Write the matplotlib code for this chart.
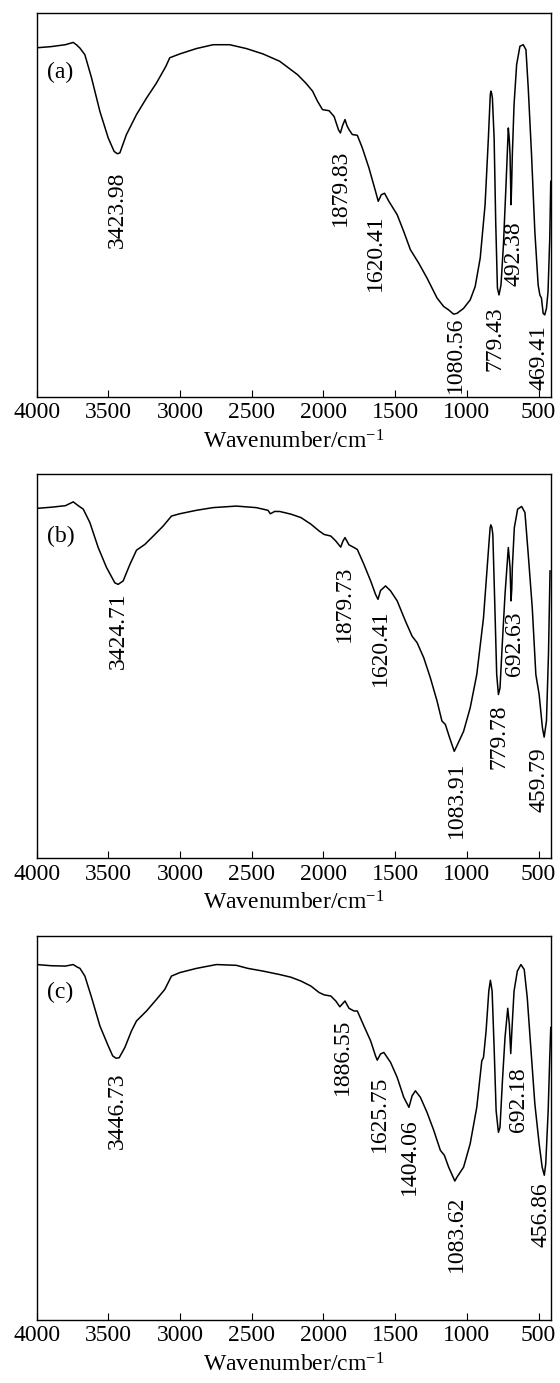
import matplotlib
matplotlib.use("Agg")
import matplotlib.pyplot as plt

plt.rcParams['font.family'] = ['Liberation Serif', 'DejaVu Serif']
plt.rcParams['mathtext.fontset'] = 'custom'
plt.rcParams['mathtext.rm'] = 'Liberation Serif'
plt.rcParams['mathtext.it'] = 'Liberation Serif:italic'

# ---- spectrum (a) ----
wn_a = [4000, 3900, 3800, 3745, 3720, 3698, 3664, 3617, 3559, 3501, 3460, 3438, 3420,
        3374, 3304, 3234, 3165, 3100, 3072, 3002, 2886, 2770, 2654, 2538, 2422, 2306,
        2213, 2181, 2123, 2076, 2042, 2007, 1961, 1926, 1895, 1882, 1868, 1850, 1835,
        1822, 1799, 1764, 1729, 1683, 1637, 1618, 1597, 1574, 1544, 1486, 1440, 1394,
        1336, 1278, 1208, 1162, 1127, 1093, 1069, 1023, 977, 942, 907, 873, 850, 837,
        833, 827, 822, 810, 799, 787, 776, 762, 745, 727, 711, 704, 699, 692, 688, 683,
        671, 653, 630, 607, 588, 572, 549, 526, 503, 491, 480, 468, 457, 445, 434, 422, 415]
t_a = [90.9, 91.2, 91.7, 92.3, 91.6, 90.8, 89.1, 83.0, 74.3, 67.4, 63.9, 63.3, 63.5,
       68.3, 73.5, 77.8, 81.7, 86.0, 88.3, 89.3, 90.7, 91.7, 91.7, 90.7, 89.3, 87.4,
       84.8, 83.9, 81.7, 79.6, 77.0, 74.8, 74.5, 73.0, 69.5, 68.7, 70.5, 72.2, 70.5,
       69.6, 68.3, 68.1, 64.8, 59.6, 53.5, 50.9, 52.6, 53.0, 50.9, 47.4, 43.0, 38.3,
       34.8, 30.9, 25.7, 23.5, 22.6, 21.5, 21.7, 23.0, 25.2, 28.7, 36.1, 50.0, 67.4, 78.5,
       79.6, 79.0, 77.8, 67.4, 45.7, 28.3, 26.5, 29.1, 39.6, 55.2, 70.0, 67.0, 63.0, 50.0, 55.0, 63.0,
       76.1, 86.5, 91.3, 91.7, 90.4, 80.4, 63.0, 43.0, 29.1, 26.5, 25.7, 21.7, 21.3, 23.0, 27.4, 41.3, 56.1]
lab_a = ['3423.98', '1879.83', '1620.41', '1080.56', '779.43', '492.38', '469.41']
lab_a_x = [3438, 1880, 1637, 1081, 803, 671, 495]
lab_a_y = [58.7, 64.3, 47.4, 20.9, 23.5, 45.7, 18.7]

# ---- spectrum (b) ----
wn_b = [4000, 3900, 3800, 3745, 3710, 3675, 3629, 3571, 3513, 3455, 3432, 3397, 3350,
        3304, 3246, 3176, 3118, 3060, 3002, 2886, 2770, 2608, 2469, 2387, 2371, 2355,
        2341, 2306, 2227, 2157, 2088, 2030, 1995, 1949, 1914, 1880, 1865, 1850, 1822,
        1787, 1764, 1718, 1671, 1637, 1620, 1602, 1567, 1532, 1486, 1428, 1382, 1347,
        1301, 1255, 1208, 1174, 1150, 1120, 1088, 1065, 1023, 977, 931, 884, 850, 838,
        833, 826, 819, 806, 792, 780, 769, 752, 734, 711, 704, 699, 692, 687, 683, 669,
        646, 618, 595, 572, 544, 519, 496, 473, 461, 445, 431, 420]
t_b = [91.1, 91.4, 91.8, 92.8, 91.8, 90.9, 87.4, 80.9, 75.7, 71.7, 71.3, 72.2, 76.5,
       80.2, 81.7, 84.3, 86.5, 89.1, 89.7, 90.6, 91.3, 91.7, 91.3, 90.6, 89.7, 90.0,
       90.3, 90.3, 89.6, 88.7, 87.0, 85.2, 84.3, 83.9, 82.6, 81.0, 82.5, 83.5, 81.6,
       80.9, 80.4, 76.5, 72.2, 68.7, 67.4, 69.7, 70.9, 69.6, 67.0, 61.7, 57.8, 56.1,
       52.2, 47.0, 40.9, 35.7, 34.8, 31.3, 27.8, 29.6, 33.0, 39.1, 47.8, 62.6, 80.0, 86.0,
       86.8, 86.2, 84.3, 67.0, 47.8, 42.6, 44.3, 56.5, 68.7, 80.9, 78.0, 75.7, 67.0, 70.0, 75.7, 86.1,
       90.9, 91.6, 90.0, 79.1, 65.2, 47.8, 42.6, 33.9, 31.5, 35.7, 53.0, 74.8]
lab_b = ['3424.71', '1879.73', '1620.41', '1083.91', '779.78', '692.63', '459.79']
lab_b_x = [3432, 1856, 1602, 1076, 773, 671, 496]
lab_b_y = [69.1, 76.1, 64.8, 25.2, 40.0, 64.3, 28.7]

# ---- spectrum (c) ----
wn_c = [4000, 3900, 3800, 3745, 3720, 3698, 3664, 3617, 3559, 3501, 3470, 3447, 3425,
        3385, 3339, 3304, 3234, 3165, 3107, 3060, 3002, 2886, 2747, 2608, 2527, 2422,
        2306, 2227, 2157, 2088, 2030, 1995, 1949, 1914, 1886, 1850, 1822, 1787, 1764,
        1718, 1671, 1637, 1625, 1602, 1579, 1532, 1486, 1440, 1404, 1382, 1359, 1324,
        1278, 1231, 1185, 1157, 1127, 1084, 1069, 1023, 977, 931, 896, 884, 866, 847,
        836, 824, 810, 796, 780, 769, 752, 734, 715, 704, 694, 685, 671, 648, 623, 600,
        579, 556, 526, 496, 475, 460, 450, 433, 422, 415]
t_c = [92.6, 92.3, 92.2, 92.6, 92.0, 91.6, 89.6, 84.0, 76.6, 71.4, 68.8, 68.2, 68.3,
       71.0, 75.3, 77.9, 80.5, 83.5, 86.1, 89.6, 90.5, 91.6, 92.6, 92.4, 91.6, 90.9,
       90.0, 89.3, 88.3, 87.0, 85.3, 84.7, 84.4, 83.1, 81.6, 83.1, 81.2, 80.5, 80.5,
       76.6, 72.7, 68.8, 67.7, 69.3, 69.7, 67.1, 63.2, 58.0, 55.4, 58.4, 59.7, 58.0,
       54.1, 49.4, 44.2, 42.9, 39.8, 36.2, 37.2, 39.8, 45.9, 55.4, 67.5, 68.4, 75.3, 85.7,
       88.5, 85.7, 71.0, 54.5, 48.9, 50.2, 62.3, 73.6, 81.2, 77.1, 69.4, 76.2, 85.7, 90.9, 92.6, 91.3,
       84.0, 71.9, 56.3, 45.9, 39.8, 37.7, 40.7, 54.5, 68.4, 76.2]
lab_c = ['3446.73', '1886.55', '1625.75', '1404.06', '1083.62', '692.18', '456.86']
lab_c_x = [3438, 1868, 1613, 1398, 1076, 641, 486]
lab_c_y = [64.5, 78.4, 63.6, 52.4, 32.5, 65.8, 35.9]

panels = ['(a)', '(b)', '(c)']
ticks = [4000, 3500, 3000, 2500, 2000, 1500, 1000, 500]

fig = plt.figure(figsize=(5.6, 13.83), dpi=100)
bottoms = [0.7132, 0.3796, 0.0456]
tag_y = [0.845, 0.839, 0.853]
series = [(wn_a, t_a, lab_a, lab_a_x, lab_a_y),
          (wn_b, t_b, lab_b, lab_b_x, lab_b_y),
          (wn_c, t_c, lab_c, lab_c_x, lab_c_y)]

for i, (wn, t, labs, lx, ly) in enumerate(series):
    ax = fig.add_axes([0.0655, bottoms[i], 0.918, 0.2775])
    ax.plot(wn, t, color='black', lw=1.1)
    ax.set_xlim(4000, 415)
    ax.set_ylim(0, 100)
    ax.set_xticks(ticks)
    ax.set_yticks([])
    ax.tick_params(axis='x', direction='in', length=5, width=0.8, labelsize=17, pad=4)
    for s in ax.spines.values():
        s.set_linewidth(1.0)
    ax.set_xlabel('Wavenumber/cm$^{-1}$', fontsize=17, labelpad=5)
    ax.text(0.02, tag_y[i], panels[i], transform=ax.transAxes, fontsize=17,
            ha='left', va='center')
    for lab, x, y in zip(labs, lx, ly):
        ax.text(x, y, lab, rotation=90, ha='center', va='top', fontsize=17)

fig.savefig('out.png', dpi=100)
